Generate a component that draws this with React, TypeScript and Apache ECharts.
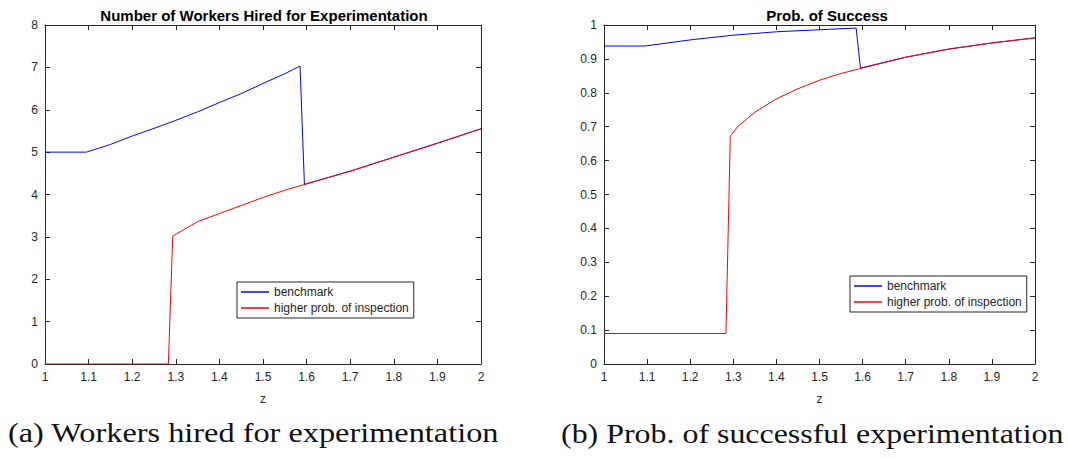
import React, { useEffect, useRef } from "react";
import * as echarts from "echarts";

const zTicks = [1, 1.1, 1.2, 1.3, 1.4, 1.5, 1.6, 1.7, 1.8, 1.9, 2];

const workersBenchZ = [1, 1.095, 1.15, 1.2, 1.25, 1.3, 1.35, 1.4, 1.45, 1.5, 1.55, 1.585, 1.595, 1.7, 1.8, 1.9, 2];
const workersBench = [5.0, 5.0, 5.18, 5.38, 5.56, 5.75, 5.95, 6.17, 6.38, 6.62, 6.85, 7.03, 4.24, 4.55, 4.88, 5.21, 5.55];

const workersHighZ = [1, 1.283, 1.293, 1.35, 1.4, 1.45, 1.5, 1.55, 1.6, 1.7, 1.8, 1.9, 2];
const workersHigh = [0, 0, 3.02, 3.36, 3.55, 3.74, 3.93, 4.1, 4.25, 4.55, 4.88, 5.21, 5.55];

const probBenchZ = [1, 1.095, 1.2, 1.3, 1.4, 1.5, 1.585, 1.595, 1.7, 1.8, 1.9, 2];
const probBench = [0.938, 0.938, 0.956, 0.97, 0.98, 0.986, 0.991, 0.873, 0.905, 0.929, 0.947, 0.962];

const probHighZ = [1, 1.283, 1.293, 1.31, 1.35, 1.4, 1.45, 1.5, 1.55, 1.6, 1.7, 1.8, 1.9, 2];
const probHigh = [0.09, 0.09, 0.672, 0.7, 0.743, 0.782, 0.812, 0.837, 0.857, 0.873, 0.905, 0.929, 0.947, 0.962];

const seriesNames = ["benchmark", "higher prob. of inspection"];
const titles = ["Number of Workers Hired for Experimentation", "Prob. of Success"];
const captions = ["(a) Workers hired for experimentation", "(b) Prob. of successful experimentation"];

const zip = (xs: number[], ys: number[]) => xs.map((x, i) => [x, ys[i]]);

const AX = "#262626";
const FONT = "Liberation Sans, Arial, sans-serif";

export default function App() {
  const ref = useRef<HTMLDivElement>(null);
  useEffect(() => {
    if (!ref.current) return;
    const chart = echarts.init(ref.current, undefined, { renderer: "svg" });
    const grids = [
      { left: 45, top: 25, width: 436, height: 339 },
      { left: 604, top: 25, width: 431, height: 339 },
    ];
    const baseAxis = {
      axisLine: { show: true, onZero: false, lineStyle: { color: AX, width: 1 } },
      axisTick: { show: true, inside: true, length: 5, lineStyle: { color: AX } },
      splitLine: { show: false },
    };
    const xAxes: any[] = [];
    const yAxes: any[] = [];
    [0, 1].forEach((g) => {
      xAxes.push({
        ...baseAxis,
        type: "value",
        gridIndex: g,
        position: "bottom",
        min: zTicks[0],
        max: zTicks[zTicks.length - 1],
        interval: 0.1,
        name: "z",
        nameLocation: "middle",
        nameGap: 29,
        nameTextStyle: { color: AX, fontSize: 12, fontFamily: FONT },
        axisLabel: {
          color: AX,
          fontSize: 12,
          fontFamily: FONT,
          margin: 7,
          formatter: (v: number) => String(+v.toFixed(1)),
        },
      });
      xAxes.push({
        ...baseAxis,
        type: "value",
        gridIndex: g,
        position: "top",
        min: zTicks[0],
        max: zTicks[zTicks.length - 1],
        interval: 0.1,
        axisLabel: { show: false },
      });
      const ymax = g === 0 ? 8 : 1;
      const yint = g === 0 ? 1 : 0.1;
      yAxes.push({
        ...baseAxis,
        type: "value",
        gridIndex: g,
        position: "left",
        min: 0,
        max: ymax,
        interval: yint,
        axisLabel: {
          color: AX,
          fontSize: 12,
          fontFamily: FONT,
          margin: 7,
          formatter: (v: number) => String(+v.toFixed(1)),
        },
      });
      yAxes.push({
        ...baseAxis,
        type: "value",
        gridIndex: g,
        position: "right",
        min: 0,
        max: ymax,
        interval: yint,
        axisLabel: { show: false },
      });
    });
    const line = (name: string, color: string, data: number[][], xi: number, yi: number) => ({
      type: "line",
      name,
      xAxisIndex: xi,
      yAxisIndex: yi,
      data,
      showSymbol: false,
      symbol: "none",
      lineStyle: { color, width: 1 },
      itemStyle: { color },
    });
    const legendBase = {
      orient: "vertical",
      data: seriesNames,
      icon: "rect",
      itemWidth: 28,
      itemHeight: 1.5,
      itemGap: 4,
      backgroundColor: "#fff",
      borderColor: AX,
      borderWidth: 1,
      borderRadius: 0,
      padding: [4, 5, 4, 4],
      textStyle: { color: AX, fontSize: 12, fontFamily: FONT },
    };
    const captionStyle = { fontSize: 28, fontFamily: "Liberation Serif, serif", fill: "#111" };
    chart.setOption({
      animation: false,
      title: [
        {
          text: titles[0],
          left: 259,
          top: 3,
          textAlign: "center",
          textStyle: { fontSize: 15, fontWeight: "bold", color: "#000", fontFamily: FONT },
        },
        {
          text: titles[1],
          left: 822,
          top: 3,
          textAlign: "center",
          textStyle: { fontSize: 15, fontWeight: "bold", color: "#000", fontFamily: FONT },
        },
      ],
      grid: grids,
      xAxis: xAxes,
      yAxis: yAxes,
      legend: [
        { ...legendBase, left: 237, top: 282 },
        { ...legendBase, left: 850, top: 276 },
      ],
      series: [
        line(seriesNames[0], "#0000ff", zip(workersBenchZ, workersBench), 0, 0),
        line(seriesNames[1], "#ff0000", zip(workersHighZ, workersHigh), 0, 0),
        line(seriesNames[0], "#0000ff", zip(probBenchZ, probBench), 2, 2),
        line(seriesNames[1], "#ff0000", zip(probHighZ, probHigh), 2, 2),
      ],
      graphic: [
        {
          type: "text",
          x: 8,
          y: 419,
          scaleX: 1.155,
          style: { ...captionStyle, text: captions[0] },
        },
        {
          type: "text",
          x: 561,
          y: 419,
          scaleX: 1.14,
          style: { ...captionStyle, text: captions[1] },
        },
      ],
    });
    return () => chart.dispose();
  }, []);
  return (
    <div
      ref={ref}
      style={{ position: "absolute", left: 0, top: 0, width: 1068, height: 459, background: "#fff" }}
    />
  );
}
